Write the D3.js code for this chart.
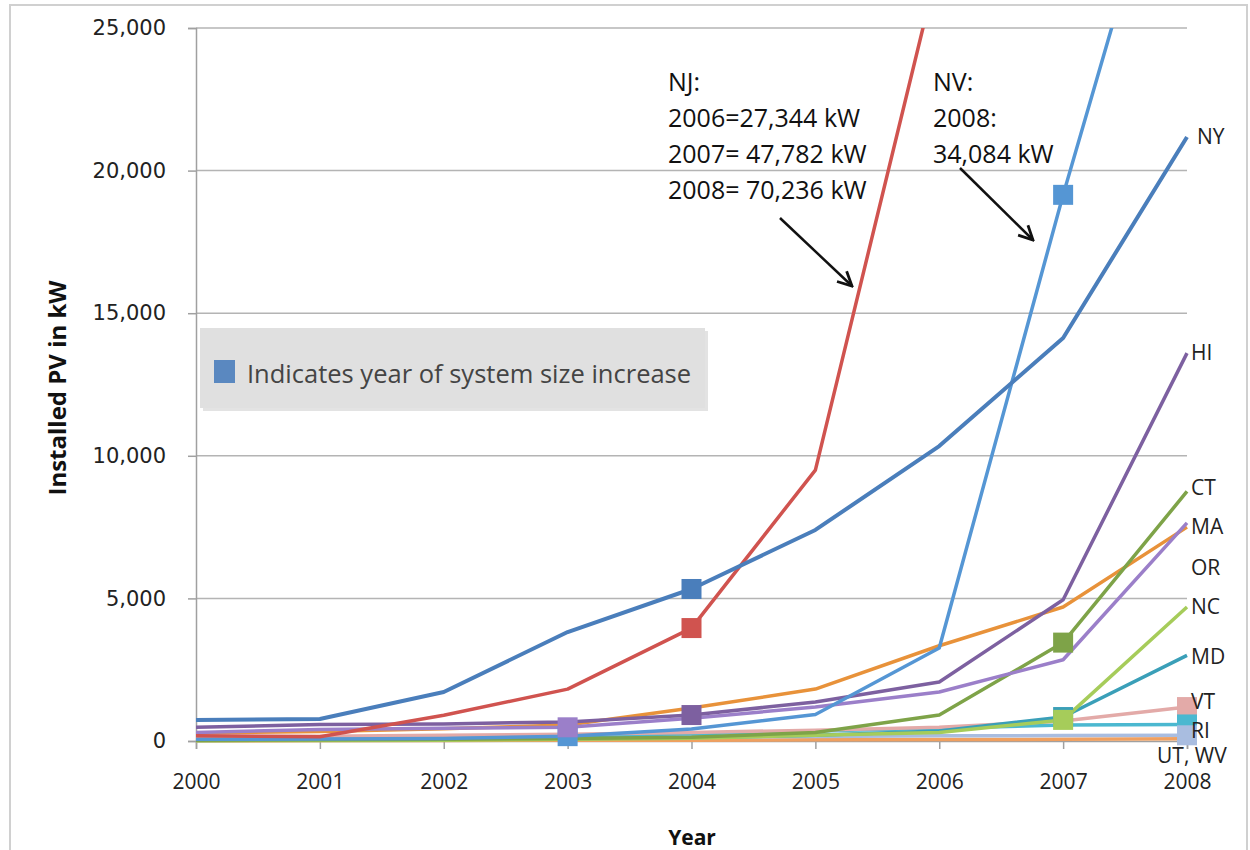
<!DOCTYPE html>
<html>
<head>
<meta charset="utf-8">
<script src="https://cdn.jsdelivr.net/npm/d3@7"></script>
<style>
  body { margin: 0; background: #fff; }
  svg { display: block; }
</style>
</head>
<body>
<svg width="1250" height="850"></svg>
<script>
// installed PV (kW) by state, 2000-2008
var years = [2000, 2001, 2002, 2003, 2004, 2005, 2006, 2007, 2008];
var yTicks = [0, 5000, 10000, 15000, 20000, 25000];

var NY = [740, 770, 1720, 3820, 5330, 7400, 10340, 14130, 21180];
var NJ = [180, 150, 900, 1820, 3960, 9500, 27344, 47782, 70236];
var NV = [60, 70, 90, 170, 420, 930, 3260, 19150, 34084];
var HI = [480, 580, 600, 670, 910, 1370, 2070, 4950, 13600];
var MA = [300, 400, 450, 480, 800, 1190, 1720, 2850, 7650];
var CT = [30, 40, 60, 90, 130, 300, 910, 3450, 8750];
var OR = [280, 330, 430, 560, 1160, 1820, 3340, 4700, 7500];
var NC = [10, 20, 30, 60, 100, 200, 300, 740, 4700];
var MD = [20, 30, 50, 80, 120, 200, 350, 840, 3000];
var VT = [150, 170, 200, 240, 300, 380, 480, 700, 1190];
var RI = [100, 120, 150, 180, 250, 350, 450, 560, 580];
var UT = [80, 90, 100, 120, 140, 160, 180, 190, 200];
var WV = [10, 15, 20, 25, 30, 40, 50, 60, 80];

var series = [
  {name: "WV", values: WV, color: "#f0a060", w: 3.5},
  {name: "UT", values: UT, color: "#a9bde0", w: 3.5},
  {name: "RI", values: RI, color: "#4bb8d0", w: 3.5},
  {name: "VT", values: VT, color: "#e3aaa8", w: 3.5},
  {name: "MD", values: MD, color: "#3a9fb8", w: 3.5},
  {name: "NC", values: NC, color: "#a6cc5a", w: 3.5},
  {name: "OR", values: OR, color: "#e8923a", w: 3.5},
  {name: "CT", values: CT, color: "#7ea348", w: 3.5},
  {name: "MA", values: MA, color: "#9b7fc9", w: 3.5},
  {name: "HI", values: HI, color: "#7d60a0", w: 3.5},
  {name: "NV", values: NV, color: "#5596d4", w: 3.5},
  {name: "NJ", values: NJ, color: "#d0534f", w: 3.5},
  {name: "NY", values: NY, color: "#4a7ebb", w: 4}
];

// squares marking the year of system size increase
var markers = [
  {s: "NV", year: 2003}, {s: "MA", year: 2003},
  {s: "NY", year: 2004}, {s: "NJ", year: 2004}, {s: "HI", year: 2004},
  {s: "NV", year: 2007}, {s: "MD", year: 2007}, {s: "CT", year: 2007}, {s: "NC", year: 2007},
  {s: "VT", year: 2008}, {s: "RI", year: 2008}, {s: "UT", year: 2008}
];

// label centres in data units
var endLabels = [
  {text: "NY", y: 21180, dx: 10},
  {text: "HI", y: 13600, dx: 4},
  {text: "CT", y: 8870, dx: 4},
  {text: "MA", y: 7500, dx: 4},
  {text: "OR", y: 6070, dx: 4},
  {text: "NC", y: 4700, dx: 4},
  {text: "MD", y: 2945, dx: 4},
  {text: "VT", y: 1380, dx: 4},
  {text: "RI", y: 360, dx: 4},
  {text: "UT, WV", y: -520, dx: -30}
];

var svg = d3.select("svg");
var plotL = 196, plotR = 1187, plotT = 28, plotB = 741;

var x = d3.scaleLinear().domain([2000, 2008]).range([plotL, plotR]);
var y = d3.scaleLinear().domain([0, 25000]).range([plotB, plotT]);
var colorOf = {};
series.forEach(function(d) { colorOf[d.name] = d; });

// outer frame
svg.append("rect")
  .attr("x", 10).attr("y", 5).attr("width", 1237).attr("height", 850)
  .style("fill", "none").style("stroke", "#d0d0d0").style("stroke-width", 2);

// gridlines
svg.append("g").selectAll("line").data(yTicks.slice(1)).enter()
  .append("line")
  .attr("x1", plotL).attr("x2", plotR)
  .attr("y1", function(d) { return y(d) }).attr("y2", function(d) { return y(d) })
  .style("stroke", "#b4b4b4").style("stroke-width", 1.5);

// y axis
var yAxis = svg.append("g").attr("transform", "translate(" + plotL + ",0)")
  .call(d3.axisLeft(y).tickValues(yTicks).tickSize(8).tickPadding(22).tickFormat(d3.format(",")));
yAxis.select(".domain").style("stroke", "#a0a0a0").style("stroke-width", 1.5);
yAxis.selectAll(".tick line").style("stroke", "#a0a0a0").style("stroke-width", 1.5);
yAxis.selectAll("text")
  .attr("font-family", "DejaVu Sans").attr("font-size", 21).style("fill", "#222");

// x axis
var xAxis = svg.append("g").attr("transform", "translate(0," + plotB + ")")
  .call(d3.axisBottom(x).tickValues(years).tickSize(8).tickPadding(25).tickFormat(d3.format("d")));
xAxis.select(".domain").style("stroke", "#a0a0a0").style("stroke-width", 1.5);
xAxis.selectAll(".tick line").style("stroke", "#a0a0a0").style("stroke-width", 1.5);
xAxis.selectAll("text")
  .attr("font-family", "Open Sans").attr("font-size", 21).style("fill", "#222");

// axis titles
svg.append("text")
  .attr("transform", "translate(66,388) rotate(-90)")
  .attr("text-anchor", "middle")
  .attr("font-family", "Open Sans").attr("font-weight", "bold").attr("font-size", 24)
  .style("fill", "#111")
  .text("Installed PV in kW");
svg.append("text")
  .attr("x", 692).attr("y", 845)
  .attr("text-anchor", "middle")
  .attr("font-family", "Open Sans").attr("font-weight", "bold").attr("font-size", 21)
  .style("fill", "#111")
  .text("Year");

// clip for lines that run off the top
svg.append("clipPath").attr("id", "plot")
  .append("rect").attr("x", plotL - 20).attr("y", plotT).attr("width", plotR - plotL + 40).attr("height", plotB - plotT + 20);

var line = d3.line()
  .x(function(d, i) { return x(years[i]) })
  .y(function(d) { return y(d) });

svg.append("g").attr("clip-path", "url(#plot)")
  .selectAll("path").data(series).enter()
  .append("path")
  .attr("d", function(d) { return line(d.values) })
  .style("fill", "none")
  .style("stroke", function(d) { return d.color })
  .style("stroke-width", function(d) { return d.w })
  .style("stroke-linejoin", "round");

// markers
svg.append("g").selectAll("rect").data(markers).enter()
  .append("rect")
  .attr("x", function(d) { return x(d.year) - 10 })
  .attr("y", function(d) { return y(colorOf[d.s].values[years.indexOf(d.year)]) - 10 })
  .attr("width", 20).attr("height", 20)
  .style("fill", function(d) { return colorOf[d.s].color });

// state labels on the right
svg.append("g").selectAll("text").data(endLabels).enter()
  .append("text")
  .attr("x", function(d) { return plotR + d.dx })
  .attr("y", function(d) { return y(d.y) + 7 })
  .attr("font-family", "Open Sans").attr("font-size", 21)
  .style("fill", "#222")
  .text(function(d) { return d.text });

// legend box
var legend = svg.append("g");
legend.append("rect")
  .attr("x", 203).attr("y", 331).attr("width", 505).attr("height", 80)
  .style("fill", "#c8c8c8").style("opacity", 0.5);
legend.append("rect")
  .attr("x", 200).attr("y", 328).attr("width", 505).attr("height", 80)
  .style("fill", "#e0e0e0");
legend.append("rect")
  .attr("x", 214).attr("y", 360).attr("width", 21).attr("height", 23)
  .style("fill", "#5a88c0");
legend.append("text")
  .attr("x", 247).attr("y", 383)
  .attr("font-family", "Open Sans").attr("font-size", 25.5)
  .style("fill", "#444")
  .text("Indicates year of system size increase");

// annotations
var njNote = ["NJ:", "2006=27,344 kW", "2007= 47,782 kW", "2008= 70,236 kW"];
var nvNote = ["NV:", "2008:", "34,084 kW"];

svg.append("g").selectAll("text").data(njNote).enter()
  .append("text")
  .attr("x", 668).attr("y", function(d, i) { return 91 + i * 36 })
  .attr("font-family", "Open Sans").attr("font-size", 25)
  .style("fill", "#111")
  .text(function(d) { return d });
svg.append("g").selectAll("text").data(nvNote).enter()
  .append("text")
  .attr("x", 933).attr("y", function(d, i) { return 91 + i * 36 })
  .attr("font-family", "Open Sans").attr("font-size", 25)
  .style("fill", "#111")
  .text(function(d) { return d });

svg.append("defs").append("marker")
  .attr("id", "arrow").attr("viewBox", "0 0 10 10").attr("refX", 9).attr("refY", 5)
  .attr("markerWidth", 7).attr("markerHeight", 7).attr("orient", "auto")
  .append("path").attr("d", "M1,1 L9,5 L1,9").style("fill", "none").style("stroke", "#111").style("stroke-width", 1.6);

var arrows = [[780, 218, 852, 286], [960, 168, 1033, 240]];
svg.append("g").selectAll("line").data(arrows).enter()
  .append("line")
  .attr("x1", function(d) { return d[0] }).attr("y1", function(d) { return d[1] })
  .attr("x2", function(d) { return d[2] }).attr("y2", function(d) { return d[3] })
  .style("stroke", "#111").style("stroke-width", 2.5)
  .attr("marker-end", "url(#arrow)");
</script>
</body>
</html>
